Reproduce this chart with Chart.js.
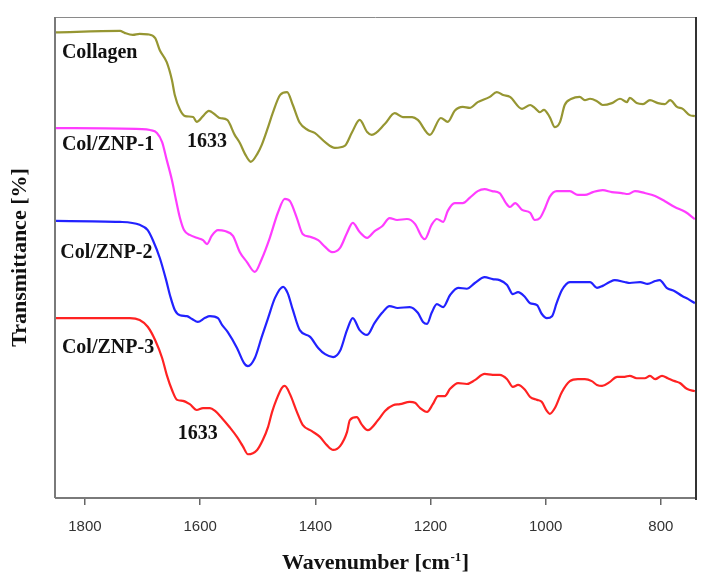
<!DOCTYPE html>
<html>
<head>
<meta charset="utf-8">
<script src="https://cdn.jsdelivr.net/npm/chart.js@4.4.1/dist/chart.umd.min.js"></script>
<style>
  html, body { margin: 0; padding: 0; background: #fff; }
  #wrap { width: 710px; height: 583px; }
</style>
</head>
<body>
<div id="wrap"><canvas id="c" width="710" height="583"></canvas></div>
<script>
// ---- Data (wavenumber in cm-1, transmittance in arbitrary offset %) ----
const xTickValues = [800, 1000, 1200, 1400, 1600, 1800];

const collagenWn = [1852,1739,1731,1717,1705,1691,1678,1670,1658,1649,1644,1635,1626,1612,1606,1595,1585,1571,1566,1553,1540,1531,1522,1512,1500,1493,1482,1474,1461,1449,1439,1427,1413,1401,1383,1366,1349,1336,1323,1310,1302,1279,1262,1248,1232,1222,1201,1182,1170,1158,1144,1132,1118,1097,1085,1074,1062,1041,1027,1019,1010,1003,993,984,975,967,955,941,932,923,911,901,885,871,859,854,842,831,819,805,793,784,772,762,750,741];
const collagenT  = [96.8,97.1,96.7,96.3,96.5,96.4,95.6,93.1,90.6,86.9,83.8,80.7,79.4,79.2,78.2,79.4,80.5,79.4,79.0,78.6,75.5,73.8,71.5,69.9,71.7,73.4,77.1,80.0,83.8,84.4,81.7,78.0,76.5,75.9,74.0,72.8,73.2,76.1,78.6,76.1,75.5,77.8,80.0,79.2,79.2,78.6,75.5,79.0,78.2,80.5,81.3,81.1,82.3,83.4,84.4,83.8,83.4,80.9,81.7,81.1,80.2,80.7,79.2,77.1,78.2,81.7,83.0,83.4,82.7,83.0,82.5,81.7,82.1,83.0,82.3,83.2,82.1,81.9,82.7,82.1,81.9,82.7,81.3,80.9,79.6,79.4];

const znp1Wn = [1852,1701,1687,1675,1666,1658,1649,1642,1635,1628,1618,1606,1595,1588,1580,1569,1557,1543,1531,1519,1505,1493,1479,1465,1453,1444,1432,1422,1409,1395,1383,1371,1357,1345,1335,1323,1310,1297,1284,1271,1258,1241,1227,1215,1210,1198,1189,1178,1170,1158,1144,1132,1118,1106,1093,1080,1069,1062,1053,1041,1027,1019,1010,1001,993,981,958,944,932,918,901,885,868,857,845,828,810,793,776,758,741];
const znp1T  = [76.9,76.7,76.5,75.9,74.0,70.3,66.1,62.0,58.2,55.7,54.7,54.1,53.6,52.8,54.5,55.7,55.5,54.5,51.1,49.1,47.0,49.7,54.1,59.3,62.2,61.7,58.2,54.9,54.3,53.6,52.2,51.1,52.0,55.1,57.2,55.3,54.1,55.5,56.5,58.2,57.8,58.0,57.0,54.3,53.8,56.8,58.0,57.4,59.7,61.3,61.3,62.4,63.8,64.2,63.8,63.4,61.3,60.5,61.3,59.9,59.3,57.8,58.2,60.3,62.6,63.8,63.8,63.0,63.0,63.6,64.0,63.6,63.4,63.2,63.8,63.4,62.8,61.7,60.5,59.5,58.0];

const znp2Wn = [1852,1739,1705,1691,1682,1670,1659,1652,1644,1635,1623,1614,1604,1592,1583,1569,1562,1552,1536,1524,1517,1505,1493,1482,1470,1456,1448,1439,1427,1409,1395,1383,1369,1357,1345,1335,1323,1310,1297,1284,1271,1257,1236,1222,1213,1206,1198,1189,1178,1166,1152,1137,1123,1106,1092,1080,1067,1057,1048,1036,1027,1015,1007,998,989,981,972,958,941,923,911,901,889,880,863,854,836,823,810,802,790,776,763,753,741];
const znp2T  = [57.6,57.4,56.8,55.7,53.6,49.9,45.3,42.0,39.1,38.0,37.8,37.2,36.6,37.4,37.8,37.4,36.0,34.5,31.2,28.1,27.4,29.1,33.5,37.4,41.6,43.9,42.6,39.1,34.9,33.5,31.2,29.9,29.3,30.6,34.9,37.4,34.9,33.9,36.4,38.5,39.9,39.5,39.7,38.5,36.6,36.2,38.5,40.3,39.7,42.2,43.7,43.5,44.7,45.9,45.5,45.3,44.3,42.4,42.8,41.8,40.5,40.1,38.3,37.4,37.8,40.5,43.2,44.9,44.9,44.9,43.7,44.1,44.9,45.3,44.9,44.7,44.9,44.5,45.1,45.3,43.7,43.0,42.0,41.4,40.5];

const znp3Wn = [1852,1722,1705,1691,1678,1666,1658,1649,1640,1630,1618,1606,1595,1583,1574,1562,1548,1536,1526,1517,1501,1491,1482,1475,1467,1458,1453,1444,1432,1422,1406,1392,1380,1369,1357,1345,1340,1328,1319,1309,1291,1279,1265,1253,1236,1227,1218,1206,1196,1187,1175,1166,1152,1137,1123,1106,1092,1080,1067,1057,1048,1036,1027,1015,1007,998,993,984,972,958,944,932,920,911,902,889,876,863,854,842,828,819,810,798,788,776,767,755,741];
const znp3T  = [37.4,37.4,37.0,35.6,32.8,29.1,25.6,22.5,20.4,20.2,19.5,18.3,18.7,18.7,18.1,16.6,14.6,12.7,10.8,9.1,10.0,12.1,14.8,17.9,20.6,22.9,23.3,21.6,17.9,15.2,13.9,12.7,11.0,10.0,10.8,13.7,16.2,16.8,15.2,14.1,16.2,18.1,19.3,19.5,20.0,19.8,18.7,17.9,19.5,21.2,21.2,22.7,23.9,23.7,24.5,25.8,25.6,25.6,24.7,23.1,23.5,22.5,21.0,20.4,20.0,18.1,17.5,18.7,22.0,24.3,24.7,24.7,24.3,23.5,23.3,24.1,25.2,25.2,25.4,24.9,24.9,25.4,24.7,25.4,24.9,24.3,23.9,22.7,22.2];

const seriesNames  = ['Collagen', 'Col/ZNP-1', 'Col/ZNP-2', 'Col/ZNP-3'];
const seriesColors = ['#969632', '#ff3cff', '#2222ff', '#ff2222'];

// Text annotations: [text, wavenumber (left edge), value (vertical centre)]
const noteTexts = ['Collagen', 'Col/ZNP-1', 'Col/ZNP-2', 'Col/ZNP-3', '1633', '1633'];
const noteWn    = [1840, 1840, 1843, 1840, 1623, 1639];
const noteVal   = [92.5, 73.4, 50.9, 31.2, 74.0, 13.3];

// Axis titles
const xTitleParts = ['Wavenumber [cm', '-1', ']'];
const yTitleText  = 'Transmittance [%]';

// ---- Build ----
function pts(wn, t) { return wn.map((x, i) => ({ x: x, y: t[i] })); }
const allWn = [collagenWn, znp1Wn, znp2Wn, znp3Wn];
const allT  = [collagenT, znp1T, znp2T, znp3T];

const datasets = seriesNames.map((name, i) => ({
  label: name,
  data: pts(allWn[i], allT[i]),
  borderColor: seriesColors[i],
  backgroundColor: seriesColors[i],
  borderWidth: 2.2,
  pointRadius: 0,
  cubicInterpolationMode: 'monotone',
  fill: false
}));

const SERIF = '"Liberation Serif", "Times New Roman", serif';

const bgPlugin = {
  id: 'bg',
  beforeDraw(chart) {
    const ctx = chart.ctx;
    ctx.save();
    ctx.fillStyle = '#fff';
    ctx.fillRect(0, 0, chart.width, chart.height);
    ctx.restore();
  }
};

const framePlugin = {
  id: 'frame',
  afterDatasetsDraw(chart) {
    const { ctx, chartArea: a } = chart;
    ctx.save();
    ctx.lineCap = 'butt';
    ctx.strokeStyle = '#8a8a8a'; ctx.lineWidth = 1;
    ctx.beginPath(); ctx.moveTo(a.left, a.top + 0.5); ctx.lineTo(a.right, a.top + 0.5); ctx.stroke();
    ctx.strokeStyle = '#7a7a7a'; ctx.lineWidth = 2;
    ctx.beginPath(); ctx.moveTo(a.left, a.top); ctx.lineTo(a.left, a.bottom); ctx.stroke();
    ctx.beginPath(); ctx.moveTo(a.left, a.bottom); ctx.lineTo(a.right, a.bottom); ctx.stroke();
    ctx.strokeStyle = '#333'; ctx.lineWidth = 2;
    ctx.beginPath(); ctx.moveTo(a.right, a.top); ctx.lineTo(a.right, a.bottom + 2); ctx.stroke();
    ctx.restore();
  }
};

const notesPlugin = {
  id: 'notes',
  afterDatasetsDraw(chart) {
    const ctx = chart.ctx;
    const xs = chart.scales.x, ys = chart.scales.y;
    const a = chart.chartArea;
    ctx.save();
    ctx.fillStyle = '#111';
    ctx.textAlign = 'left';
    ctx.textBaseline = 'middle';
    ctx.font = 'bold 20px ' + SERIF;
    noteTexts.forEach((t, i) => {
      ctx.fillText(t, xs.getPixelForValue(noteWn[i]), ys.getPixelForValue(noteVal[i]));
    });
    // x-axis title with superscript
    const mainFont = 'bold 22px ' + SERIF;
    const supFont = 'bold 13px ' + SERIF;
    ctx.font = mainFont;
    const w1 = ctx.measureText(xTitleParts[0]).width;
    const w3 = ctx.measureText(xTitleParts[2]).width;
    ctx.font = supFont;
    const w2 = ctx.measureText(xTitleParts[1]).width + 1;
    const cx = (a.left + a.right) / 2;
    const baseY = chart.height - 14;
    let x0 = cx - (w1 + w2 + w3) / 2;
    ctx.textBaseline = 'alphabetic';
    ctx.font = mainFont;
    ctx.fillText(xTitleParts[0], x0, baseY);
    ctx.font = supFont;
    ctx.fillText(xTitleParts[1], x0 + w1 + 0.5, baseY - 8);
    ctx.font = mainFont;
    ctx.fillText(xTitleParts[2], x0 + w1 + w2, baseY);
    ctx.restore();
  }
};

new Chart(document.getElementById('c'), {
  type: 'line',
  data: { datasets },
  plugins: [bgPlugin, framePlugin, notesPlugin],
  options: {
    responsive: false,
    animation: false,
    layout: { padding: { top: 17, right: 14, left: 0, bottom: 0 } },
    plugins: { legend: { display: false }, tooltip: { enabled: false } },
    scales: {
      x: {
        type: 'linear',
        reverse: true,
        min: 739,
        max: 1852,
        afterBuildTicks: s => { s.ticks = xTickValues.map(v => ({ value: v })); },
        afterFit: s => { s.height = 85; },
        grid: { drawOnChartArea: false, drawTicks: true, tickLength: 7, color: '#666', lineWidth: 1.5 },
        border: { display: false },
        ticks: { color: '#333', font: { family: '"Liberation Sans", Arial, sans-serif', size: 15 },
                 padding: 13, maxRotation: 0, autoSkip: false, callback: v => String(v) },
        title: { display: false }
      },
      y: {
        min: 0,
        max: 100,
        afterFit: s => { s.width = 55; },
        grid: { display: false },
        border: { display: false },
        ticks: { display: false },
        title: { display: true, text: yTitleText, color: '#111',
                 font: { family: SERIF, size: 22, weight: 'bold' },
                 padding: { top: 7, bottom: 0 } }
      }
    }
  }
});
</script>
</body>
</html>
